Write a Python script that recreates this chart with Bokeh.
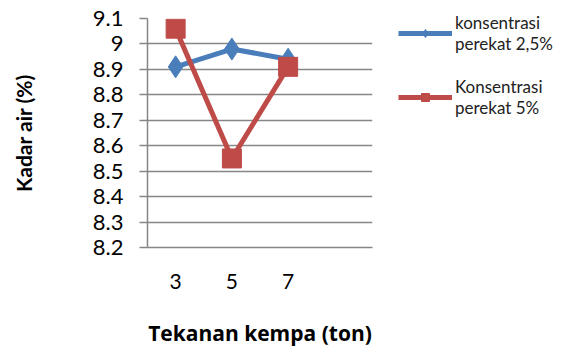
from bokeh.plotting import figure
from bokeh.models import Range1d, FixedTicker, Legend, LegendItem, ColumnDataSource
from bokeh.embed import file_html
from bokeh.resources import INLINE

x_labels = ["3", "5", "7"]
series_25 = [8.91, 8.98, 8.94]
series_5 = [9.06, 8.55, 8.91]
y_ticks = [8.2, 8.3, 8.4, 8.5, 8.6, 8.7, 8.8, 8.9, 9.0, 9.1]
y_tick_labels = ["8.2", "8.3", "8.4", "8.5", "8.6", "8.7", "8.8", "8.9", "9", "9.1"]

xpos = list(range(1, len(x_labels) + 1))

p = figure(width=563, height=333, output_backend="svg", toolbar_location=None,
           x_range=Range1d(0.5, 4.5), y_range=Range1d(8.2, 9.1),
           min_border_left=147, min_border_top=18, min_border_right=191, min_border_bottom=86,
           frame_width=225, frame_height=229)
p.outline_line_color = None
p.background_fill_color = "white"

FONT = "Lato"
GRAY = "#868686"

p.xgrid.grid_line_color = None
p.ygrid.grid_line_color = GRAY
p.ygrid.grid_line_width = 1.5
p.ygrid.ticker = FixedTicker(ticks=y_ticks)

p.yaxis.ticker = FixedTicker(ticks=y_ticks)
p.yaxis.major_label_overrides = {t: l for t, l in zip(y_ticks, y_tick_labels)}
p.yaxis.axis_line_color = GRAY
p.yaxis.axis_line_width = 1.5
p.yaxis.major_tick_line_color = GRAY
p.yaxis.major_tick_line_width = 1.5
p.yaxis.major_tick_out = 8
p.yaxis.major_tick_in = 0
p.yaxis.minor_tick_line_color = None
p.yaxis.major_label_text_font = FONT
p.yaxis.major_label_text_font_size = "22px"
p.yaxis.major_label_text_color = "black"
p.yaxis.major_label_standoff = 16
p.yaxis.axis_label = "Kadar air (%)"
p.yaxis.axis_label_text_font = FONT
p.yaxis.axis_label_text_font_size = "21px"
p.yaxis.axis_label_text_font_style = "bold"
p.yaxis.axis_label_text_color = "black"
p.yaxis.axis_label_standoff = 54

p.xaxis.ticker = FixedTicker(ticks=xpos)
p.xaxis.major_label_overrides = {x: l for x, l in zip(xpos, x_labels)}
p.xaxis.axis_line_color = GRAY
p.xaxis.axis_line_width = 1.5
p.xaxis.major_tick_line_color = None
p.xaxis.minor_tick_line_color = None
p.xaxis.major_label_text_font = FONT
p.xaxis.major_label_text_font_size = "21px"
p.xaxis.major_label_text_color = "black"
p.xaxis.major_label_standoff = 20
p.xaxis.axis_label = "Tekanan kempa (ton)"
p.xaxis.axis_label_text_font = "Open Sans"
p.xaxis.axis_label_text_font_size = "21px"
p.xaxis.axis_label_text_font_style = "bold"
p.xaxis.axis_label_text_color = "black"
p.xaxis.axis_label_standoff = 27

BLUE = "#4A7EBB"
RED = "#BE4B48"

src = ColumnDataSource(dict(x=xpos, a=series_25, b=series_5))
l1 = p.line("x", "a", source=src, line_color=BLUE, line_width=5)
m1 = p.scatter("x", "a", source=src, marker="diamond", size=22, fill_color=BLUE, line_color=BLUE)
l2 = p.line("x", "b", source=src, line_color=RED, line_width=5)
m2 = p.scatter("x", "b", source=src, marker="square", size=19, fill_color=RED, line_color=RED)

legend = Legend(items=[
    LegendItem(label="konsentrasi\nperekat 2,5%", renderers=[l1, m1]),
    LegendItem(label="Konsentrasi\nperekat 5%", renderers=[l2, m2]),
], location=(26, 129))
legend.label_text_font = FONT
legend.label_text_font_size = "17px"
legend.label_text_line_height = 1.4
legend.label_text_color = "#222222"
legend.border_line_color = None
legend.background_fill_alpha = 0
legend.glyph_width = 54
legend.glyph_height = 20
legend.spacing = 22
legend.label_standoff = 3
legend.padding = 0
legend.margin = 0
p.add_layout(legend, "right")

open("out.html", "w").write(file_html(p, INLINE))
